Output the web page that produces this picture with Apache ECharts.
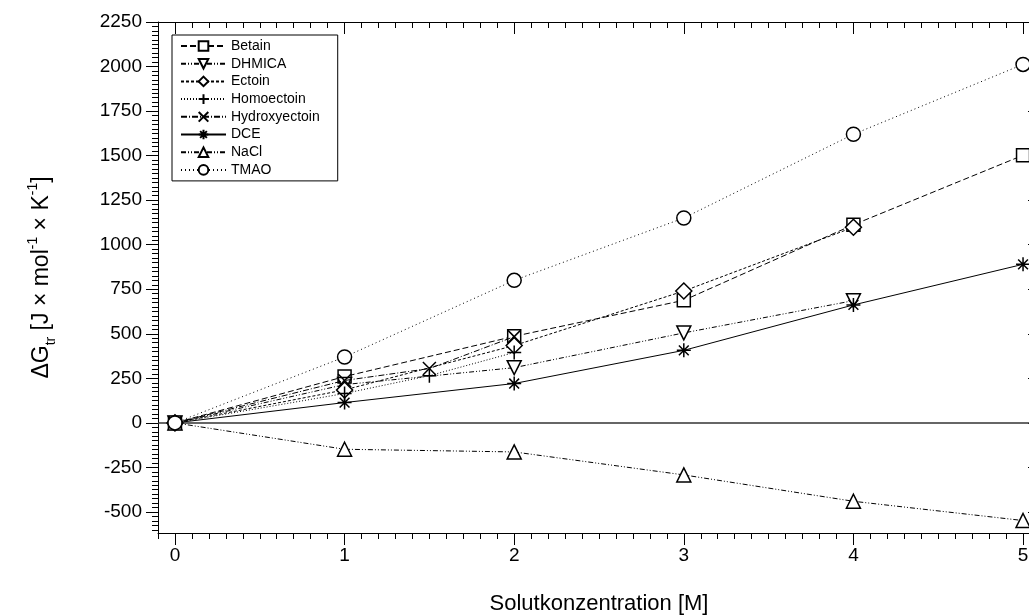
<!DOCTYPE html>
<html>
<head>
<meta charset="utf-8">
<script src="https://cdn.jsdelivr.net/npm/echarts@6/dist/echarts.min.js"></script>
<style>
  html, body { margin: 0; padding: 0; background: #fff; overflow: hidden; }
  #chart { width: 1045px; height: 615px; }
</style>
</head>
<body>
<div id="chart"></div>
<script>
// values
var names = ["Betain", "DHMICA", "Ectoin", "Homoectoin", "Hydroxyectoin", "DCE", "NaCl", "TMAO"];

var xBetain = [0, 1, 2, 3, 4, 5];
var yBetain = [0, 260, 486, 688, 1112, 1502];
var xDHMICA = [0, 1, 2, 3, 4];
var yDHMICA = [0, 215, 310, 505, 686];
var xEctoin = [0, 1, 2, 3, 4];
var yEctoin = [0, 185, 434, 740, 1098];
var xHomo = [0, 1, 1.5, 2];
var yHomo = [0, 165, 265, 395];
var xHydroxy = [0, 1, 1.5, 2];
var yHydroxy = [0, 238, 305, 484];
var xDCE = [0, 1, 2, 3, 4, 5];
var yDCE = [0, 114, 221, 407, 662, 890];
var xNaCl = [0, 1, 2, 3, 4, 5];
var yNaCl = [0, -148, -163, -292, -440, -548];
var xTMAO = [0, 1, 2, 3, 4, 5];
var yTMAO = [0, 370, 800, 1150, 1620, 2012];

var xTicks = [0, 1, 2, 3, 4, 5];
var yTicks = [-500, -250, 0, 250, 500, 750, 1000, 1250, 1500, 1750, 2000, 2250];

var xMin = -0.1, xMax = 5.1;
var yMin = -618, yMax = 2250;

var xMinor = [];
for (var i = -1; i <= 51; i++) xMinor.push(i / 10);
var yMinor = [];
for (var v = -600; v <= 2250; v += 25) yMinor.push(v);

function pairs(xs, ys) {
  return xs.map(function (x, k) { return [x, ys[k]]; });
}

var asterisk = "path://M5 0L5 10M0 5L10 5M1.5 1.5L8.5 8.5M8.5 1.5L1.5 8.5";
var plus = "path://M5 0L5 10M0 5L10 5";
var cross = "path://M0 0L10 10M10 0L0 10";

var defs = [
  { data: pairs(xBetain, yBetain), symbol: "rect", size: 13, dash: [6, 3] },
  { data: pairs(xDHMICA, yDHMICA), symbol: "triangle", rotate: 180, size: 14, dash: [5, 2, 1, 2, 1, 2] },
  { data: pairs(xEctoin, yEctoin), symbol: "diamond", size: 16, dash: [3, 2] },
  { data: pairs(xHomo, yHomo), symbol: plus, size: 14, dash: [1, 2] },
  { data: pairs(xHydroxy, yHydroxy), symbol: cross, size: 13, dash: [6, 2, 1, 2] },
  { data: pairs(xDCE, yDCE), symbol: asterisk, size: 14, dash: "solid" },
  { data: pairs(xNaCl, yNaCl), symbol: "triangle", size: 14, dash: [5, 2, 1, 2, 1, 2] },
  { data: pairs(xTMAO, yTMAO), symbol: "circle", size: 14, dash: [1, 3] }
];

var series = defs.map(function (d, k) {
  return {
    name: names[k],
    type: "line",
    data: d.data,
    symbol: d.symbol,
    symbolSize: d.size,
    symbolRotate: d.rotate || 0,
    lineStyle: { color: "#000", width: 1, type: d.dash },
    itemStyle: { color: "#fff", borderColor: "#000", borderWidth: 1.5 },
    z: 3 + k
  };
});

// horizontal zero line
series.push({
  type: "line",
  data: [],
  markLine: {
    silent: true,
    symbol: "none",
    label: { show: false },
    lineStyle: { color: "#333", width: 1.5, type: "solid" },
    data: [{ yAxis: 0 }]
  }
});

var plain = function (val) { return String(val); };

function xAx(pos, custom, len, inside, labels, line) {
  return {
    type: "value", position: pos, min: xMin, max: xMax,
    axisLine: { show: line, onZero: false, lineStyle: { color: "#000", width: 1 } },
    axisTick: { show: true, customValues: custom, length: len, inside: inside, lineStyle: { color: "#000" } },
    axisLabel: labels ? { show: true, customValues: xTicks, formatter: plain, fontSize: 19, color: "#000", fontFamily: "Arial", margin: 13 } : { show: false },
    splitLine: { show: false }
  };
}
function yAx(pos, custom, len, inside, labels, line) {
  return {
    type: "value", position: pos, min: yMin, max: yMax,
    axisLine: { show: line, onZero: false, lineStyle: { color: "#000", width: 1 } },
    axisTick: { show: true, customValues: custom, length: len, inside: inside, lineStyle: { color: "#000" } },
    axisLabel: labels ? { show: true, customValues: yTicks, formatter: plain, fontSize: 19, color: "#000", fontFamily: "Arial", margin: 16 } : { show: false },
    splitLine: { show: false }
  };
}

var xAxes = [
  xAx("bottom", xTicks, 12, false, true, true),
  xAx("bottom", xMinor, 6, false, false, false),
  xAx("top", xTicks, 12, true, false, true),
  xAx("top", xMinor, 6, true, false, false)
];
xAxes[0].name = "Solutkonzentration [M]";
xAxes[0].nameLocation = "middle";
xAxes[0].nameGap = 60;
xAxes[0].nameTextStyle = { fontSize: 22, color: "#000", fontFamily: "Arial" };

var yAxes = [
  yAx("left", yTicks, 12, false, true, true),
  yAx("left", yMinor, 6, false, false, false),
  yAx("right", yTicks, 12, true, false, true),
  yAx("right", yMinor, 6, true, false, false)
];
yAxes[0].name = "{n|ΔG}{sub|tr}{n| [J × mol}{sup|-1}{n| × K}{sup|-1}{n|]}";
yAxes[0].nameLocation = "middle";
yAxes[0].nameGap = 100;
yAxes[0].nameRotate = 90;
yAxes[0].nameTextStyle = {
  color: "#000", fontFamily: "Arial",
  rich: {
    n: { fontSize: 23, lineHeight: 32, color: "#000", fontFamily: "Arial" },
    sub: { fontSize: 14, lineHeight: 13, verticalAlign: "bottom", color: "#000", fontFamily: "Arial" },
    sup: { fontSize: 14, lineHeight: 13, verticalAlign: "top", color: "#000", fontFamily: "Arial" }
  }
};

var chart = echarts.init(document.getElementById("chart"), null, { renderer: "canvas" });
chart.setOption({
  animation: false,
  backgroundColor: "#fff",
  grid: { left: 158, top: 22, right: 5, bottom: 82, containLabel: false, outerBoundsMode: "none" },
  xAxis: xAxes,
  yAxis: yAxes,
  legend: {
    data: names,
    orient: "vertical",
    left: 172,
    top: 35,
    padding: [4, 18, 4, 8],
    itemWidth: 45,
    itemHeight: 12,
    itemGap: 3.7,
    borderColor: "#000",
    borderWidth: 1,
    backgroundColor: "#fff",
    textStyle: { fontSize: 14, lineHeight: 14, color: "#000", fontFamily: "Arial" }
  },
  series: series
});
</script>
</body>
</html>
